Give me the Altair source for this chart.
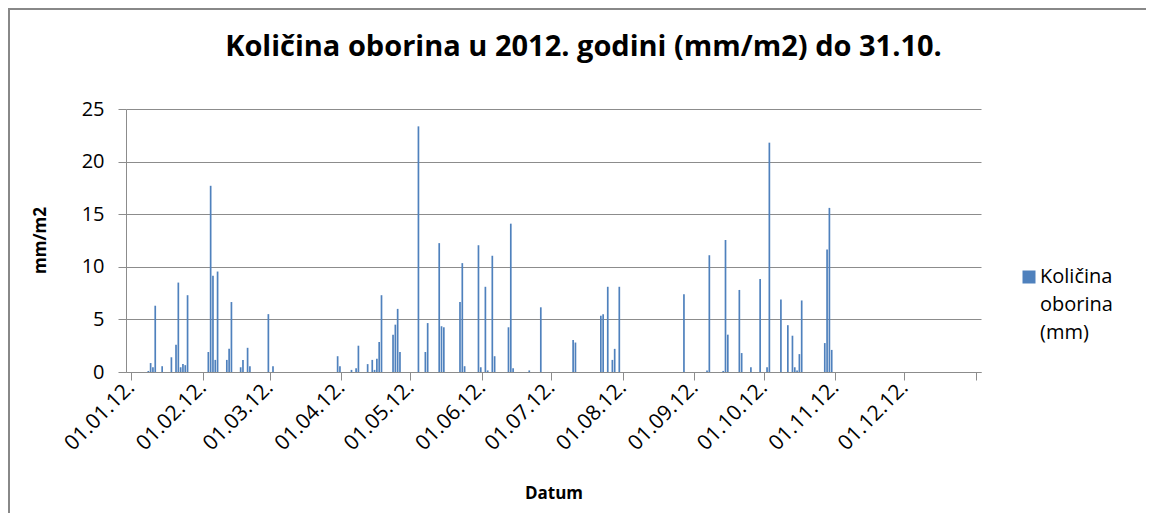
import altair as alt
import pandas as pd
import datetime as dt

# Day of year (0 = 1 January 2012) on which rain fell, and amount in mm
day_of_year = [
    7, 8, 9, 10, 13, 17, 19, 20, 21, 22, 23, 24,
    33, 34, 35, 36, 37, 41, 42, 43, 47, 48, 50, 51, 59, 61,
    89, 90, 95, 97, 98, 102, 104, 105, 106, 107, 108,
    113, 114, 115, 116, 124, 127, 128, 133, 134, 135,
    142, 143, 144, 150, 151, 153, 154, 156, 157,
    163, 164, 165, 172, 177, 191, 192,
    203, 204, 206, 208, 209, 211, 239, 249, 250,
    256, 257, 258, 263, 264, 268, 272, 275, 276,
    281, 284, 286, 287, 288, 289, 290, 300, 301, 302, 303,
]
rain_mm = [
    0.1, 0.85, 0.45, 6.3, 0.55, 1.4, 2.6, 8.5, 0.45, 0.75, 0.65, 7.3,
    1.9, 17.7, 9.15, 1.15, 9.55, 1.15, 2.2, 6.65, 0.45, 1.15, 2.3, 0.55, 5.5, 0.55,
    1.5, 0.55, 0.2, 0.35, 2.5, 0.75, 1.15, 0.2, 1.25, 2.85, 7.3,
    3.55, 4.5, 6.0, 1.9, 23.35, 1.9, 4.65, 12.25, 4.35, 4.25,
    6.65, 10.35, 0.55, 12.05, 0.45, 8.1, 0.15, 11.05, 1.5,
    4.25, 14.1, 0.35, 0.15, 6.15, 3.05, 2.8,
    5.35, 5.5, 8.1, 1.15, 2.2, 8.1, 7.4, 0.15, 11.1,
    0.1, 12.55, 3.55, 7.8, 1.8, 0.45, 8.85, 0.45, 21.8,
    6.9, 4.45, 3.45, 0.45, 0.15, 1.7, 6.8, 2.75, 11.65, 15.6, 2.1,
]
series_name = "Količina oborina (mm)"
legend_lines = ["Količina", "oborina", "(mm)"]
y_ticks = [0, 5, 10, 15, 20, 25]
month_ticks = [alt.DateTime(year=2012, month=m, date=1) for m in range(1, 13)] + [
    alt.DateTime(year=2013, month=1, date=1)
]

start = dt.datetime(2012, 1, 1)
df = pd.DataFrame({
    "datum": [(start + dt.timedelta(days=d, hours=12)).strftime("%Y-%m-%dT%H:%M:%S") for d in day_of_year],
    "oborina": rain_mm,
    "serija": series_name,
})

FONT = "Open Sans"
GRID = "#8c8c8c"
FRAME = "#888888"
legend_expr = "[" + ", ".join("'" + s + "'" for s in legend_lines) + "]"

bars = alt.Chart(df).mark_bar(width=1.7, color="#4F81BD").encode(
    x=alt.X(
        "datum:T",
        scale=alt.Scale(domain=[alt.DateTime(year=2012, month=1, date=1),
                                alt.DateTime(year=2013, month=1, date=1)], nice=False),
        axis=alt.Axis(
            title="Datum", values=month_ticks, format="%d.%m.%y.",
            labelExpr="year(datum.value) > 2012 ? '' : timeFormat(datum.value, '%d.%m.%y.')",
            labelAngle=-45, labelAlign="right", labelBaseline="middle",
            labelFontSize=21, labelPadding=4, labelOverlap=False, labelFont=FONT,
            labelColor="#000000", tickSize=8, tickColor=GRID, domainColor=GRID,
            grid=False, titleFont=FONT, titleFontSize=17, titleFontWeight="bold",
            titleColor="#000000", titleY=121, titleBaseline="middle",
        ),
    ),
    y=alt.Y(
        "oborina:Q",
        scale=alt.Scale(domain=[0, 25], nice=False),
        axis=alt.Axis(
            title="mm/m2", values=y_ticks, labelFontSize=20, labelFont=FONT,
            labelColor="#000000", labelPadding=14, tickSize=8, tickColor=GRID,
            domainColor=GRID, gridColor=GRID, titleFont=FONT, titleFontSize=17,
            titleFontWeight="bold", titleColor="#000000", titleX=-86, titleY=131,
            titleBaseline="middle", titleAngle=-90,
        ),
    ),
    color=alt.Color(
        "serija:N",
        scale=alt.Scale(range=["#4F81BD"]),
        legend=alt.Legend(
            title=None, orient="none", legendX=893, legendY=158,
            symbolType="square", symbolSize=169, symbolStrokeWidth=0,
            labelExpr=legend_expr,
            labelFont=FONT, labelFontSize=20, labelColor="#000000",
            labelBaseline="middle", labelOffset=1,
        ),
    ),
)

# outer chart frame (left and top edges; the right and bottom edges fall outside the picture)
frame_left = alt.Chart(alt.Data(values=[{}])).mark_rule(
    color=FRAME, strokeWidth=2
).encode(x=alt.value(-117), y=alt.value(-101), y2=alt.value(480))
frame_top = alt.Chart(alt.Data(values=[{}])).mark_rule(
    color=FRAME, strokeWidth=2
).encode(x=alt.value(-118), x2=alt.value(1100), y=alt.value(-100))

chart = alt.layer(frame_left, frame_top, bars).properties(
    width=855, height=263,
    title=alt.TitleParams(
        "Količina oborina u 2012. godini (mm/m2) do 31.10.",
        font=FONT, fontSize=29, fontWeight="bold", color="#000000",
        anchor="middle", frame="group", dx=30, offset=-78, baseline="alphabetic",
    ),
    autosize=alt.AutoSizeParams(type="none"),
    padding={"left": 118, "top": 101, "right": 165, "bottom": 141},
).configure(
    background="#ffffff",
    view=alt.ViewConfig(stroke=None),
    style={"guide-label": {"lineHeight": 28}},
)

chart.save("out.html", embed_options={"renderer": "svg", "actions": False})
